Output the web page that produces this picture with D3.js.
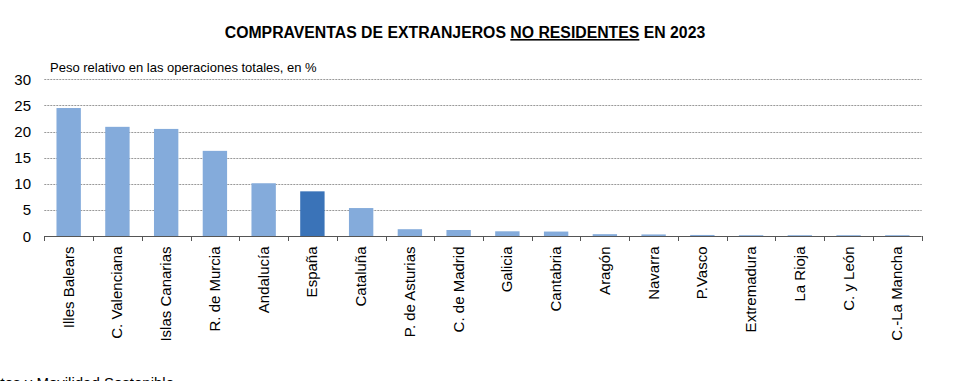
<!DOCTYPE html>
<html><head><meta charset="utf-8">
<script src="https://cdn.jsdelivr.net/npm/d3@7"></script>
<style>
body{margin:0;background:#fff;}
text{font-family:"Liberation Sans",Arial,sans-serif;}
</style></head>
<body><svg id="c" width="961" height="381"></svg>
<script>
const categories = ["Illes Balears","C. Valenciana","Islas Canarias","R. de Murcia","Andalucía","España","Cataluña","P. de Asturias","C. de Madrid","Galicia","Cantabria","Aragón","Navarra","P.Vasco","Extremadura","La Rioja","C. y León","C.-La Mancha"];
const values = [24.5,20.9,20.5,16.3,10.1,8.55,5.35,1.3,1.15,0.9,0.85,0.35,0.3,0.2,0.15,0.15,0.15,0.15];
const yTicks = [0,5,10,15,20,25,30];
const highlight = "España";

const svg = d3.select("#c");
const x = d3.scaleBand().domain(categories).range([44.3,921.7]).paddingInner(0.5).paddingOuter(0.25);
const y = d3.scaleLinear().domain([0,30]).range([236,79.3]);

// title
const t = svg.append("text").attr("x",465).attr("y",38).attr("text-anchor","middle")
  .style("font-weight","bold").style("font-size","15.8px").attr("fill","#000");
t.append("tspan").text("COMPRAVENTAS DE EXTRANJEROS ");
t.append("tspan").text("NO RESIDENTES").style("text-decoration","underline");
t.append("tspan").text(" EN 2023");

svg.append("text").attr("x",50).attr("y",72).style("font-size","13px").attr("fill","#000")
  .text("Peso relativo en las operaciones totales, en %");

// gridlines
svg.append("g").selectAll("line").data(yTicks.filter(d=>d>0)).join("line")
  .attr("x1",44.3).attr("x2",921.7).attr("y1",d=>Math.round(y(d))+0.5).attr("y2",d=>Math.round(y(d))+0.5)
  .attr("stroke","#999").attr("stroke-width",1).attr("stroke-dasharray","2,1");

// y labels
svg.append("g").selectAll("text").data(yTicks).join("text")
  .attr("x",31).attr("y",d=>y(d)+5.5).attr("text-anchor","end").style("font-size","15px").attr("fill","#000")
  .text(d=>d);

// bars
svg.append("g").selectAll("rect").data(categories).join("rect")
  .attr("x",d=>x(d)).attr("width",x.bandwidth())
  .attr("y",(d,i)=>y(values[i])).attr("height",(d,i)=>y(0)-y(values[i]))
  .attr("fill",d=>d===highlight?"#3a73b8":"#84abdb");

// axis
const bounds = d3.range(categories.length+1).map(i=>44.3+i*(877.4/categories.length));
svg.append("line").attr("x1",44.3).attr("x2",921.7).attr("y1",236.5).attr("y2",236.5).attr("stroke","#555").attr("stroke-width",1.2);
svg.append("g").selectAll("line").data(bounds).join("line")
  .attr("x1",d=>Math.round(d)+0.5).attr("x2",d=>Math.round(d)+0.5).attr("y1",236).attr("y2",241)
  .attr("stroke","#555").attr("stroke-width",1);

// x labels
svg.append("g").selectAll("text").data(categories).join("text")
  .attr("transform",d=>`translate(${x(d)+x.bandwidth()/2+5},246.5) rotate(-90)`)
  .attr("text-anchor","end").style("font-size","15px").attr("fill","#000").text(d=>d);

// source (cut off at bottom edge, as in the reference)
svg.append("text").attr("x",174).attr("y",388).attr("text-anchor","end").style("font-size","15px").attr("fill","#000")
  .text("Fuente: Ministerio de Transportes y Movilidad Sostenible");
</script></body></html>
